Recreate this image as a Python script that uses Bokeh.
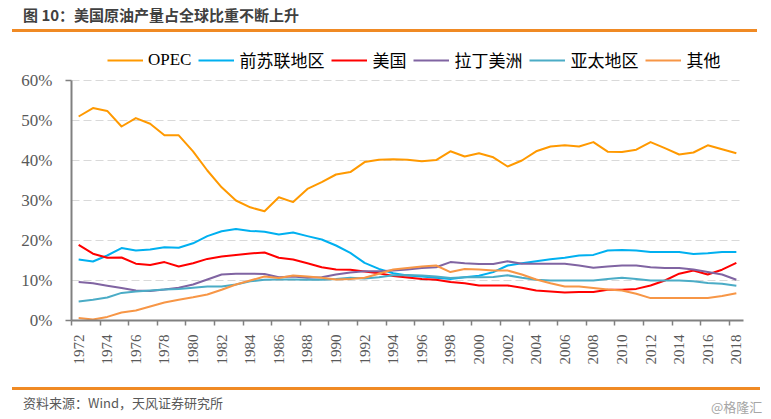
import math
from bokeh.plotting import figure
from bokeh.layouts import column
from bokeh.models import Range1d, FixedTicker, Legend, LegendItem, Div
from bokeh.embed import file_html
from bokeh.resources import INLINE

years = list(range(1972, 2019))

opec = [51.0, 53.1, 52.4, 48.5, 50.6, 49.2, 46.3, 46.3, 42.3, 37.5,
        33.3, 30.0, 28.3, 27.3, 30.8, 29.6, 32.9, 34.6, 36.5, 37.1,
        39.6, 40.2, 40.3, 40.2, 39.8, 40.1, 42.3, 41.0, 41.8, 40.8,
        38.5, 40.0, 42.3, 43.5, 43.8, 43.5, 44.6, 42.2, 42.1, 42.7,
        44.6, 43.1, 41.5, 42.0, 43.8, 42.8, 41.8]
ussr = [15.25, 14.75, 16.25, 18.1, 17.5, 17.75, 18.3, 18.2, 19.3, 21.1,
        22.3, 22.9, 22.4, 22.2, 21.5, 22.0, 21.1, 20.25, 18.75, 16.9,
        14.4, 12.9, 11.8, 11.25, 11.0, 10.7, 10.4, 10.8, 11.2, 12.1,
        13.75, 14.3, 14.8, 15.3, 15.7, 16.25, 16.4, 17.5, 17.6, 17.5,
        17.1, 17.1, 17.1, 16.6, 16.8, 17.1, 17.1]
usa = [18.9, 16.7, 15.7, 15.75, 14.2, 13.9, 14.6, 13.5, 14.3, 15.4,
       16.0, 16.4, 16.75, 17.0, 15.7, 15.25, 14.3, 13.3, 12.75, 12.7,
       12.25, 11.8, 11.1, 10.75, 10.4, 10.2, 9.6, 9.3, 8.75, 8.75,
       8.75, 8.2, 7.5, 7.25, 7.0, 7.1, 7.1, 7.7, 7.7, 7.9,
       8.75, 10.0, 11.7, 12.5, 11.5, 12.7, 14.4]
latam = [9.6, 9.3, 8.7, 8.1, 7.5, 7.4, 7.75, 8.2, 9.0, 10.25,
         11.5, 11.7, 11.7, 11.6, 10.8, 11.0, 10.7, 10.8, 11.5, 12.0,
         12.3, 12.3, 12.5, 12.75, 13.1, 13.3, 14.6, 14.3, 14.1, 14.1,
         14.8, 14.2, 14.2, 14.2, 14.2, 13.75, 13.2, 13.5, 13.75, 13.75,
         13.3, 13.1, 13.1, 12.75, 12.1, 11.5, 10.2]
apac = [4.75, 5.2, 5.75, 6.9, 7.25, 7.5, 7.75, 7.9, 8.2, 8.5,
        8.5, 9.0, 9.8, 10.2, 10.25, 10.25, 10.2, 10.2, 10.4, 10.7,
        10.5, 10.8, 11.3, 11.4, 11.25, 11.0, 10.6, 10.8, 10.8, 10.9,
        11.3, 10.7, 10.2, 10.0, 10.0, 10.0, 10.0, 10.4, 10.7, 10.4,
        10.0, 10.0, 10.0, 9.8, 9.4, 9.2, 8.7]
other = [0.6, 0.25, 0.9, 2.0, 2.5, 3.5, 4.5, 5.2, 5.8, 6.5,
         7.7, 9.0, 10.0, 11.0, 10.6, 11.25, 11.0, 10.7, 10.25, 10.4,
         10.7, 11.7, 12.75, 13.1, 13.5, 13.75, 12.1, 12.9, 12.75, 12.5,
         12.5, 11.5, 10.25, 9.3, 8.5, 8.5, 8.1, 7.75, 7.5, 6.7,
         5.6, 5.6, 5.6, 5.6, 5.6, 6.1, 6.8]

series_names = ["OPEC", "前苏联地区", "美国", "拉丁美洲", "亚太地区", "其他"]
series_values = [opec, ussr, usa, latam, apac, other]
series_colors = ["#FF9900", "#00B0F0", "#FF0000", "#8064A2", "#4BACC6", "#F79646"]

label_years = list(range(1972, 2019, 2))
y_ticks = [0, 10, 20, 30, 40, 50, 60]

title_text = "图 10：美国原油产量占全球比重不断上升"
source_text = "资料来源：Wind，天风证券研究所"
mark_text = "@格隆汇"

SERIF = "Liberation Serif, Noto Sans CJK SC"
CJK = "'Noto Sans CJK SC'"
ORANGE = "#F08A24"

# ---------- header ----------
header_html = (
    '<div style="position:relative;width:771px;height:36px;">'
    f'<div style="position:absolute;left:23px;top:6px;font-family:{CJK};'
    'font-size:15px;font-weight:bold;color:#404040;line-height:18px;'
    f'white-space:nowrap;">{title_text}</div>'
    '<div style="position:absolute;left:12px;top:29px;width:745px;height:3px;'
    f'background:{ORANGE};"></div></div>'
)
header = Div(text=header_html, width=771, height=36, margin=0)

# ---------- chart ----------
# frame spans page y 44..320; the upper strip (above 60%) holds the legend
p = figure(width=771, height=344, output_backend="svg", toolbar_location=None,
           x_range=Range1d(1971.5, 2018.5), y_range=Range1d(0, 69),
           min_border_left=71, min_border_right=28, min_border_top=8,
           min_border_bottom=60, margin=0)
p.outline_line_color = None

renderers = []
for name, vals, col in zip(series_names, series_values, series_colors):
    r = p.line(years, vals, line_color=col, line_width=2, line_join="round")
    renderers.append((name, r))

xa = p.xaxis[0]
xa.ticker = FixedTicker(ticks=label_years,
                        minor_ticks=[y - 0.5 for y in label_years])
xa.major_tick_line_color = None
xa.major_tick_out = 0
xa.major_tick_in = 0
xa.minor_tick_line_color = "#808080"
xa.minor_tick_line_width = 1.5
xa.minor_tick_out = 5
xa.minor_tick_in = 0
xa.axis_line_color = "#808080"
xa.axis_line_width = 2
xa.major_label_orientation = math.pi / 2
xa.major_label_standoff = 9
xa.major_label_text_font = "Liberation Serif"
xa.major_label_text_font_size = "15px"
xa.major_label_text_color = "#595959"

ya = p.yaxis[0]
ya.bounds = (0, 60)
ya.ticker = FixedTicker(ticks=y_ticks, minor_ticks=[0, 60])
ya.major_label_overrides = {t: f"{t}%" for t in y_ticks}
ya.major_tick_line_color = None
ya.major_tick_out = 0
ya.major_tick_in = 0
ya.minor_tick_line_color = "#808080"
ya.minor_tick_line_width = 1.5
ya.minor_tick_out = 6
ya.minor_tick_in = 0
ya.axis_line_color = "#808080"
ya.axis_line_width = 2
ya.major_label_standoff = 13
ya.major_label_text_font = "Liberation Serif"
ya.major_label_text_font_size = "17px"
ya.major_label_text_color = "#595959"

p.xgrid.grid_line_color = None
p.ygrid.ticker = FixedTicker(ticks=[10, 20, 30, 40, 50, 60])
p.ygrid.grid_line_color = "#D9D9D9"
p.ygrid.grid_line_dash = "8 4"
p.ygrid.grid_line_width = 1

legend = Legend(items=[LegendItem(label=n, renderers=[r]) for n, r in renderers],
                orientation="horizontal", location=(36, 248),
                glyph_width=36, glyph_height=20, label_height=20,
                label_standoff=5, spacing=7,
                padding=0, margin=0, border_line_color=None,
                background_fill_alpha=0, label_text_font=SERIF,
                label_text_font_size="17px", label_text_color="#000000")
p.add_layout(legend, "center")

# ---------- footer ----------
footer_html = (
    '<div style="position:relative;width:771px;height:39px;">'
    '<div style="position:absolute;left:12px;top:7px;width:748px;height:3px;'
    f'background:{ORANGE};"></div>'
    f'<div style="position:absolute;left:23px;top:14px;font-family:{CJK};'
    'font-size:13px;color:#595959;line-height:18px;white-space:nowrap;">'
    f'{source_text}</div>'
    f'<div style="position:absolute;left:711px;top:18px;font-family:{CJK};'
    'font-size:13px;color:#A6A6A6;line-height:18px;white-space:nowrap;">'
    f'{mark_text}</div></div>'
)
footer = Div(text=footer_html, width=771, height=39, margin=0)

layout = column(header, p, footer, spacing=0, margin=0)
open("out.html", "w").write(file_html(layout, INLINE))
